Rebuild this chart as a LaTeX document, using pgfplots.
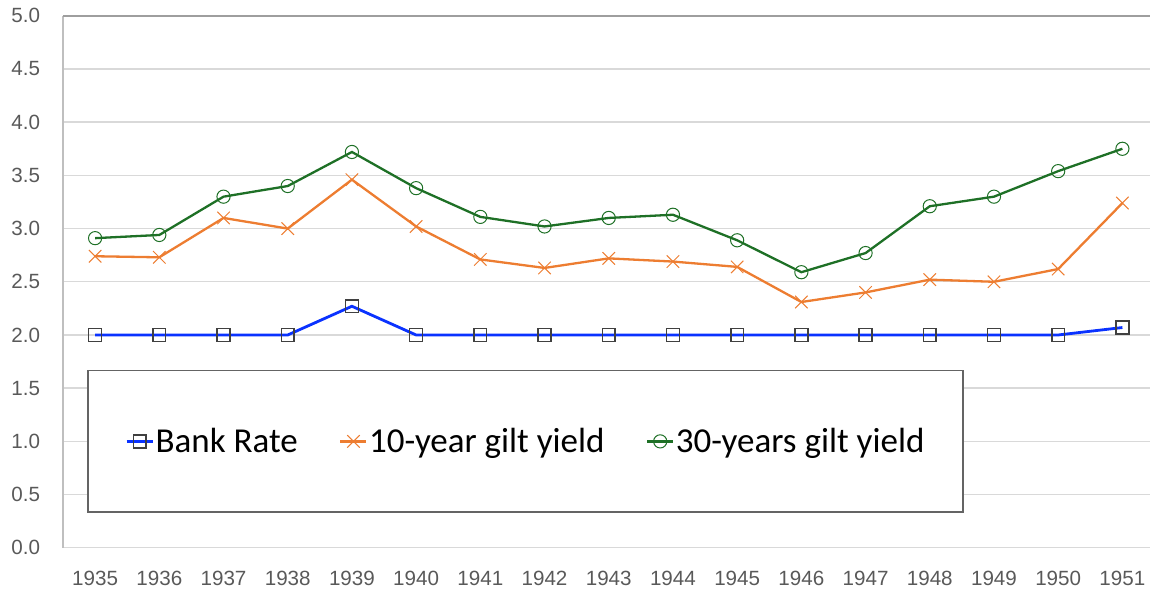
\documentclass[border=0pt]{standalone}
\usepackage{fontspec}
\setmainfont{Liberation Sans}
\newfontfamily\legendfont{Carlito}
\usepackage{pgfplots}
\pgfplotsset{compat=1.18}
\definecolor{bankblue}{RGB}{10,50,255}
\definecolor{giltorange}{RGB}{237,125,49}
\definecolor{giltgreen}{RGB}{30,112,38}
\definecolor{markgray}{RGB}{64,64,64}
\definecolor{tickgray}{RGB}{89,89,89}
\definecolor{gridgray}{RGB}{217,217,217}
\definecolor{spinegray}{RGB}{191,191,191}
\definecolor{framegray}{RGB}{100,100,100}
\begin{document}
\begin{tikzpicture}
\begin{axis}[
  scale only axis,
  width=543.5bp, height=266bp,
  xmin=-0.5, xmax=16.43,
  ymin=0, ymax=5,
  axis x line*=bottom,
  axis y line*=left,
  axis line style={spinegray, line width=0.7bp},
  x axis line style={gridgray},
  xtick={0,...,16},
  xticklabels={1935,1936,1937,1938,1939,1940,1941,1942,1943,1944,1945,1946,1947,1948,1949,1950,1951},
  ytick={0,0.5,...,5},
  yticklabels={0.0,0.5,1.0,1.5,2.0,2.5,3.0,3.5,4.0,4.5,5.0},
  major tick length=0pt,
  tick style={draw=none},
  ymajorgrids,
  grid style={gridgray, line width=0.7bp},
  extra y ticks={5},
  extra y tick labels={},
  extra y tick style={grid style={color=black!38, line width=1bp}},
  ticklabel style={font=\fontsize{10.3bp}{12bp}\selectfont, text=tickgray},
  yticklabel style={xshift=-8bp},
  xticklabel style={yshift=-8bp},
  legend columns=3,
  legend style={draw=none, fill=none,
    at={(axis cs:6.705,1.0)}, anchor=center,
    font=\legendfont\fontsize{17.5bp}{20bp}\selectfont,
    nodes={inner xsep=0.75bp, inner ysep=1bp},
    /tikz/every even column/.append style={column sep=20bp}},
  legend image code/.code={\draw[mark repeat=2,mark phase=2,#1] plot coordinates {(0bp,0bp) (6.5bp,0bp) (13bp,0bp)};},
]
\draw[framegray, line width=0.75bp, fill=white] (axis cs:-0.11,0.336) rectangle (axis cs:13.52,1.666);
\addplot[bankblue, line width=1.4bp, mark=square, mark size=3.2bp,
  mark options={draw=markgray, line width=0.75bp, fill=none}]
  coordinates {(0,2) (1,2) (2,2) (3,2) (4,2.27) (5,2) (6,2) (7,2) (8,2) (9,2) (10,2) (11,2) (12,2) (13,2) (14,2) (15,2) (16,2.07)};
\addlegendentry{Bank Rate}
\addplot[giltorange, line width=1.15bp, mark=x, mark size=4.4bp,
  mark options={line width=0.5bp}]
  coordinates {(0,2.74) (1,2.73) (2,3.10) (3,3.00) (4,3.46) (5,3.02) (6,2.71) (7,2.63) (8,2.72) (9,2.69) (10,2.64) (11,2.31) (12,2.40) (13,2.52) (14,2.50) (15,2.62) (16,3.24)};
\addlegendentry{10-year gilt yield}
\addplot[giltgreen, line width=1.15bp, mark=o, mark size=3.3bp,
  mark options={line width=0.5bp, fill=none}]
  coordinates {(0,2.91) (1,2.94) (2,3.30) (3,3.40) (4,3.72) (5,3.38) (6,3.11) (7,3.02) (8,3.10) (9,3.13) (10,2.89) (11,2.59) (12,2.77) (13,3.21) (14,3.30) (15,3.54) (16,3.75)};
\addlegendentry{30-years gilt yield}
\end{axis}
\pgfresetboundingbox
\path[use as bounding box] ([xshift=-31.5bp, yshift=-21.1bp]current axis.south west) rectangle ([yshift=7.9bp]current axis.north east);
\end{tikzpicture}
\end{document}
